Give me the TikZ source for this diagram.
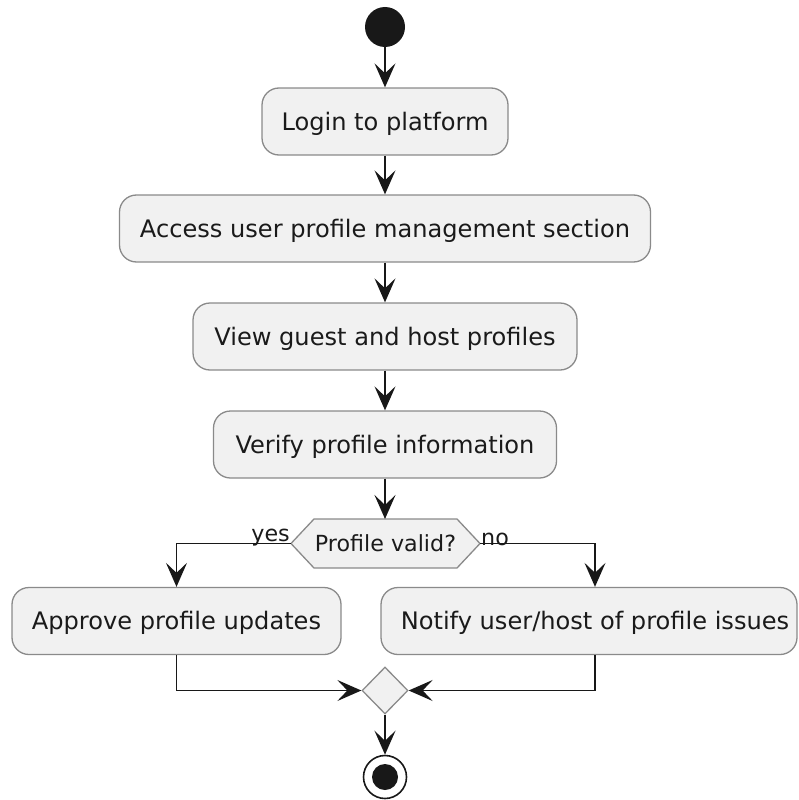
\documentclass[tikz,border=0pt]{standalone}
\usepackage{fontspec}
\setmainfont{DejaVu Sans}
\usetikzlibrary{arrows.meta,shapes.geometric}
\definecolor{actfill}{HTML}{F1F1F1}
\definecolor{actborder}{HTML}{8A8A8A}
\definecolor{linecol}{HTML}{181818}
\definecolor{txtcol}{HTML}{1A1A1A}
\begin{document}
\begin{tikzpicture}[x=1pt,y=-1pt,
  act/.style={draw=actborder, line width=1.3pt, fill=actfill, rounded corners=17pt,
    minimum height=67pt, inner sep=0pt, text=txtcol, text height=17pt, text depth=0pt,
    font=\fontsize{24.1}{29}\selectfont},
  small/.style={text=txtcol, font=\fontsize{22.2}{27}\selectfont, inner sep=0pt},
  flow/.style={draw=linecol, line width=1.8pt,
    -{Stealth[length=24pt, width=21pt, inset=10pt]}},
]
\useasboundingbox (0,0) rectangle (799,800);

% start and activities
\node[circle, fill=linecol, minimum size=40pt, inner sep=0pt] (start) at (385,27) {};
\node[act, minimum width=246pt] (login)  at (385,121.5) {Login to platform};
\node[act, minimum width=531pt] (access) at (385,228.5) {Access user profile management section};
\node[act, minimum width=384pt] (view)   at (385,336.5) {View guest and host profiles};
\node[act, minimum width=343pt] (verify) at (385,444.5) {Verify profile information};

% decision hexagon
\coordinate (decL) at (291,543.5);
\coordinate (decR) at (480,543.5);
\coordinate (decT) at (385,519);
\fill[actfill] (decL) -- (314,519) -- (457,519) -- (decR) -- (457,568) -- (314,568) -- cycle;
\draw[actborder, line width=1.3pt, line join=miter]
  (decL) -- (314,519) -- (457,519) -- (decR) -- (457,568) -- (314,568) -- cycle;
\node[small, text height=16pt, text depth=0pt] (dec) at (385.5,543) {Profile valid?};
\node[small, anchor=south east] (yes) at ([shift={(-1pt,-3pt)}]decL) {yes};
\node[small, anchor=south west] (no)  at ([shift={(1pt,-3pt)}]decR) {no};

% branch activities
\node[act, minimum width=329pt] (approve) at (176.5,621) {Approve profile updates};
\node[act, minimum width=416pt] (notify)  at (589,621) {\hspace*{12pt}Notify user/host of profile issues};

% merge and stop
\node[diamond, draw=actborder, line width=1.3pt, fill=actfill, minimum width=46pt,
  minimum height=47pt, inner sep=0pt] (merge) at (385,690.5) {};
\node[circle, draw=linecol, line width=1.6pt, fill=white, minimum size=43pt, inner sep=0pt] (stop) at (385,777) {};
\node[circle, fill=linecol, minimum size=26pt, inner sep=0pt] (stopdot) at (stop.center) {};

% connectors
\draw[flow] (start) -- (login);
\draw[flow] (login) -- (access);
\draw[flow] (access) -- (view);
\draw[flow] (view) -- (verify);
\draw[flow] (verify) -- (decT);
\draw[flow] (decL) -| (approve.north);
\draw[flow] (decR) -| ([xshift=6pt]notify.north);
\draw[flow] (approve.south) |- (merge.west);
\draw[flow] ([xshift=6pt]notify.south) |- (merge.east);
\draw[flow] (merge) -- (stop);
\end{tikzpicture}
\end{document}
